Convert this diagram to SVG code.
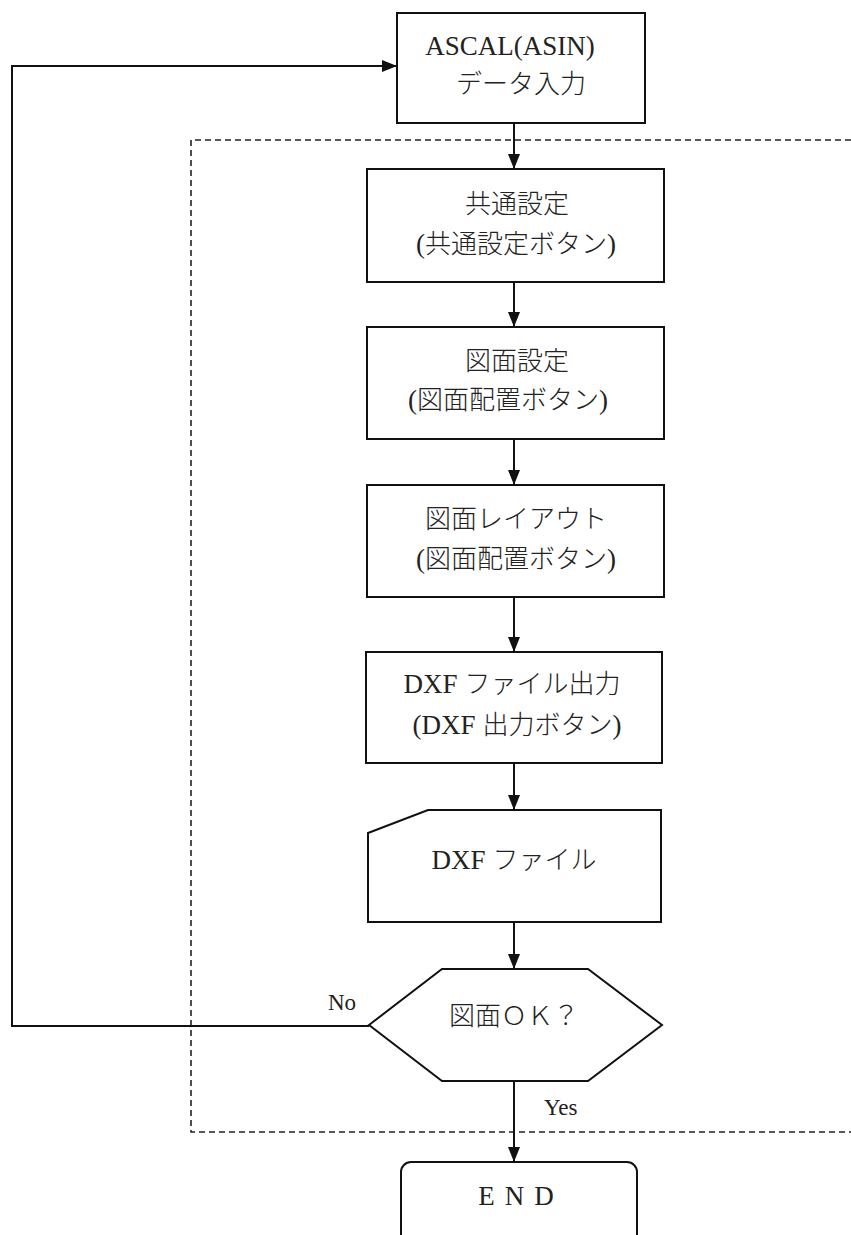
<svg xmlns="http://www.w3.org/2000/svg" width="851" height="1235" viewBox="0 0 851 1235">
<style>
.box{fill:#fff;stroke:#111;stroke-width:2}
.ln{fill:none;stroke:#111;stroke-width:2}
.dash{fill:none;stroke:#222;stroke-width:1.6;stroke-dasharray:6 4}
.t{font-family:"Noto Sans CJK JP",sans-serif;font-size:26px;fill:#222;text-anchor:middle;font-weight:300}
.l{font-family:"Liberation Serif",serif;font-size:27px;font-weight:400}
.s{font-family:"Liberation Serif",serif;font-size:23px;fill:#222}
</style>
<defs>
<marker id="ah" markerWidth="15" markerHeight="12" refX="15" refY="6" viewBox="0 0 15 12" orient="auto" markerUnits="userSpaceOnUse">
<path d="M0,0 L15,6 L0,12 Z" fill="#111"/>
</marker>
</defs>
<rect width="851" height="1235" fill="#fff"/>
<path class="dash" d="M851,140 H191 V1132 H851"/>
<g id="connectors">
<line class="ln" x1="514" y1="123" x2="514" y2="169" marker-end="url(#ah)"/>
<line class="ln" x1="514" y1="282" x2="514" y2="327" marker-end="url(#ah)"/>
<line class="ln" x1="514" y1="439" x2="514" y2="485" marker-end="url(#ah)"/>
<line class="ln" x1="514" y1="597" x2="514" y2="652" marker-end="url(#ah)"/>
<line class="ln" x1="514" y1="763" x2="514" y2="810" marker-end="url(#ah)"/>
<line class="ln" x1="514" y1="922" x2="514" y2="969" marker-end="url(#ah)"/>
<line class="ln" x1="514" y1="1081" x2="514" y2="1162" marker-end="url(#ah)"/>
<polyline class="ln" points="369,1026 12,1026 12,66 397,66" marker-end="url(#ah)"/>
<text class="s" x="328" y="1010">No</text>
<text class="s" x="544" y="1115">Yes</text>
</g>
<g id="n1">
<rect class="box" x="397" y="13" width="248" height="110"/>
<text class="t" x="510" y="55"><tspan class="l">ASCAL(ASIN)</tspan></text>
<text class="t" x="521" y="93">データ入力</text>
</g>
<g id="n2">
<rect class="box" x="367" y="169" width="297" height="113"/>
<text class="t" x="517" y="213">共通設定</text>
<text class="t" x="516" y="253"><tspan class="l">(</tspan>共通設定ボタン<tspan class="l">)</tspan></text>
</g>
<g id="n3">
<rect class="box" x="367" y="327" width="297" height="112"/>
<text class="t" x="517" y="370">図面設定</text>
<text class="t" x="508" y="409"><tspan class="l">(</tspan>図面配置ボタン<tspan class="l">)</tspan></text>
</g>
<g id="n4">
<rect class="box" x="367" y="485" width="297" height="112"/>
<text class="t" x="516" y="528">図面レイアウト</text>
<text class="t" x="516" y="568"><tspan class="l">(</tspan>図面配置ボタン<tspan class="l">)</tspan></text>
</g>
<g id="n5">
<rect class="box" x="366" y="652" width="296" height="111"/>
<text class="t" x="512" y="693"><tspan class="l">DXF </tspan>ファイル出力</text>
<text class="t" x="517" y="734"><tspan class="l">(DXF </tspan>出力ボタン<tspan class="l">)</tspan></text>
</g>
<g id="n6">
<path class="box" d="M428,810 H661 V922 H368 V833 Z"/>
<text class="t" x="514" y="869"><tspan class="l">DXF </tspan>ファイル</text>
</g>
<g id="n7">
<polygon class="box" points="369,1025 442,969 588,969 662,1025 588,1081 442,1081"/>
<text class="t" x="514" y="1025" font-size="25">図面ＯＫ？</text>
</g>
<g id="n8">
<rect class="box" x="401" y="1162" width="236" height="90" rx="10"/>
<text class="t" x="521" y="1205"><tspan class="l" letter-spacing="10">END</tspan></text>
</g>
</svg>
